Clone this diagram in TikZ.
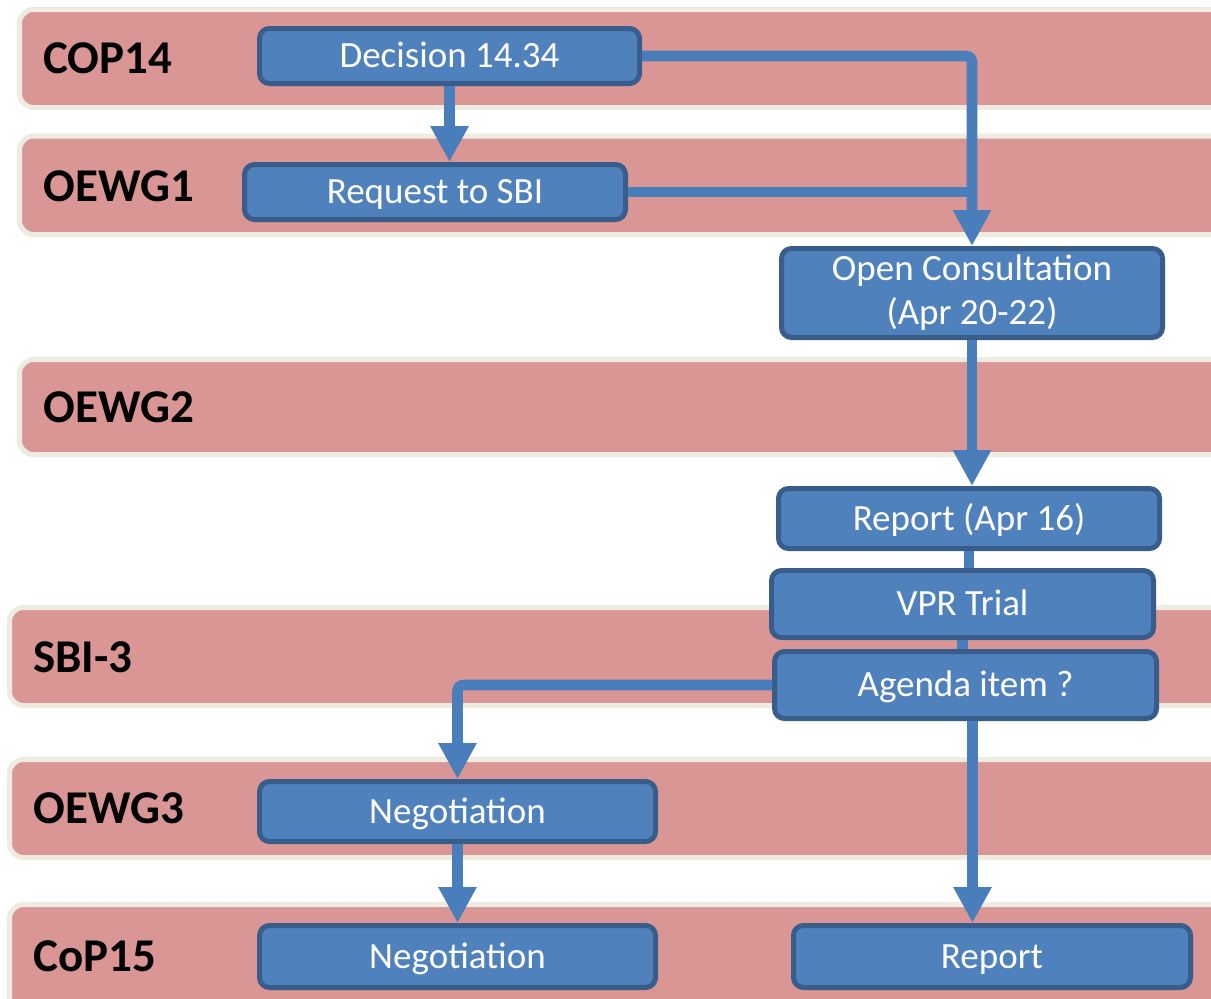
\documentclass[tikz,border=0pt]{standalone}
\usepackage{fontspec}
\setmainfont{Carlito}
\usetikzlibrary{arrows.meta}
\definecolor{bandpink}{HTML}{D99694}
\definecolor{bandedge}{HTML}{EEECE1}
\definecolor{boxblue}{HTML}{4F81BD}
\definecolor{boxedge}{HTML}{385D8A}
\definecolor{linkblue}{HTML}{4A7EBB}

\begin{document}
\begin{tikzpicture}[x=0.5pt,y=-0.5pt,
  band/.style={fill=bandpink, draw=bandedge, line width=2.5pt, rounded corners=7pt},
  bandlabel/.style={anchor=west, inner sep=0pt, font=\fontsize{23.5}{28}\selectfont\bfseries},
  box/.style={fill=boxblue, draw=boxedge, line width=2.5pt, rounded corners=5pt,
    text=white, align=center, inner sep=0pt, text height=11.9pt, text depth=0pt,
    font=\fontsize{18.5}{22}\selectfont},
  link/.style={draw=linkblue, line width=5.3pt, rounded corners=3pt,
    -{Triangle[length=18pt,width=18pt]}}]
 \useasboundingbox (0,0) rectangle (1211,998);
 \foreach \n/\t/\x/\a/\b/\m in
  {
    cop/COP14/19.5/9.5/107.5/58, oewg1/OEWG1/19.5/136/234.5/186,
    oewg2/OEWG2/19.5/359.5/454.5/407, sbi/SBI-3/9.5/607.5/705.5/657,
    oewg3/OEWG3/9.5/759.5/857.5/808, cop15/CoP15/9.5/904.5/1040/956
  }
  {
    \draw[band] (\x,\a) rectangle (1250,\b);
    \node[bandlabel] (\n) at (\x+23.5,\m) {\t};
  }
 \node[box, minimum width=190pt, minimum height=27.5pt] (dec) at (449.5,56) {Decision 14.34};
 \node[box, minimum width=190.5pt, minimum height=27.5pt] (req) at (435,192) {Request to SBI};
 \node[box, minimum width=190.5pt, minimum height=44.5pt, text height=, text depth=] (oc) at (972,293) {Open Consultation\\(Apr 20-22)};
 \node[box, minimum width=190.5pt, minimum height=30pt] (rep1) at (969,518.5) {Report (Apr 16)};
 \node[box, minimum width=191pt, minimum height=33.5pt] (vpr) at (962.5,604) {VPR Trial};
 \node[box, minimum width=191pt, minimum height=33.5pt] (agenda) at (965.5,685) {Agenda item ?};
 \node[box, minimum width=198pt, minimum height=30pt] (neg1) at (457.5,811.5) {Negotiation};
 \node[box, minimum width=198pt, minimum height=31pt] (neg2) at (457.5,956.5) {Negotiation};
 \node[box, minimum width=198.5pt, minimum height=31pt] (rep2) at (992,956.5) {Report};
 \draw[link] (dec.south) -- (dec.south |- req.north);
 \draw[link] (dec.east) -| (oc.north);
 \draw[link, -] (req.east) -- (req.east -| oc.north);
 \draw[link] (oc.south) -- (oc.south |- rep1.north);
 \draw[link, -] (rep1.south) -- (rep1.south |- vpr.north);
 \draw[link, -] (vpr.south) -- (vpr.south |- agenda.north);
 \draw[link] (agenda.west) -| (neg1.north);
 \draw[link] (neg1.south) -- (neg2.north);
 \draw[link] ([xshift=3.5pt]agenda.south) -- ([xshift=3.5pt]agenda.south |- rep2.north);
\end{tikzpicture}
\end{document}
